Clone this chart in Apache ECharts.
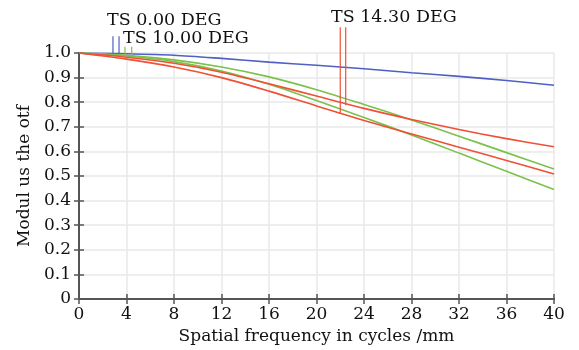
<!DOCTYPE html>
<html>
<head>
<meta charset="utf-8">
<script src="https://cdn.jsdelivr.net/npm/echarts@6/dist/echarts.min.js"></script>
<style>
	html, body { margin: 0; padding: 0; background: #fff; }
	#chart { width: 579px; height: 350px; }
</style>
</head>
<body>
<div id="chart"></div>
<script>
// spatial frequency, cycles/mm
const freq = [0, 4, 8, 12, 16, 20, 24, 28, 32, 36, 40];
// MTF curves
const mtf0 = [1.0, 0.997, 0.991, 0.978, 0.963, 0.95, 0.936, 0.92, 0.905, 0.888, 0.869];
const mtf10T = [1.0, 0.991, 0.972, 0.943, 0.903, 0.851, 0.791, 0.728, 0.662, 0.595, 0.528];
const mtf10S = [1.0, 0.988, 0.965, 0.927, 0.873, 0.807, 0.738, 0.667, 0.593, 0.519, 0.445];
const mtf14T = [1.0, 0.983, 0.958, 0.922, 0.875, 0.825, 0.775, 0.73, 0.689, 0.652, 0.619];
const mtf14S = [1.0, 0.975, 0.943, 0.9, 0.845, 0.785, 0.726, 0.671, 0.617, 0.563, 0.508];

// legend pointer lines: frequency, top value, bottom value
const pointerFreq = [2.86, 3.37, 3.87, 4.44, 22.0, 22.46];
const pointerTop = [1.068, 1.068, 1.025, 1.025, 1.105, 1.105];
const pointerBottom = [0.998, 0.998, 0.99, 0.987, 0.752, 0.788];
const pointerGroup = [0, 0, 1, 1, 2, 2];

const legendNames = ['TS 0.00 DEG', 'TS 10.00 DEG', 'TS 14.30 DEG'];

const color = {
	blue: '#4f60c2',
	green: '#7bc14c',
	red: '#ef5036',
	axis: '#555555',
	grid: '#e9e9e9',
	text: '#111111',
};
const groupColor = [color.blue, color.green, color.red];
const fontFamily = '"DejaVu Serif", serif';

const chart = echarts.init(document.getElementById('chart'), null, { renderer: 'canvas' });

const curve = (values, c) => ({
	type: 'line',
	data: freq.map((f, i) => [f, values[i]]),
	symbol: 'none',
	smooth: 0.3,
	lineStyle: { width: 1.6, color: c },
	animation: false,
	z: 3,
});

const pointers = pointerFreq.map((f, i) => ({
	type: 'line',
	data: [[f, pointerTop[i]], [f, pointerBottom[i]]],
	symbol: 'none',
	clip: false,
	lineStyle: { width: 1.2, color: groupColor[pointerGroup[i]] },
	animation: false,
	z: 4,
}));

const axisLine = { show: true, lineStyle: { color: color.axis, width: 2 } };
const axisTick = { show: true, inside: true, length: 5, lineStyle: { color: color.axis, width: 1.5 } };

const option = {
	backgroundColor: '#fff',
	grid: { left: 79, right: 25, top: 53, bottom: 47 },
	xAxis: [
		{
			type: 'value',
			min: 0,
			max: 40,
			interval: 4,
			position: 'bottom',
			axisLine,
			axisTick,
			axisLabel: { color: color.text, fontFamily, fontSize: 17, margin: 7 },
			splitLine: { show: true, lineStyle: { color: color.grid, width: 1.5 } },
			name: 'Spatial frequency in cycles /mm',
			nameLocation: 'middle',
			nameGap: 29,
			nameTextStyle: { color: color.text, fontFamily, fontSize: 17 },
		},
		{
			type: 'value',
			min: 0,
			max: 40,
			interval: 4,
			position: 'top',
			axisLine,
			axisTick,
			axisLabel: { show: false },
			splitLine: { show: false },
		},
	],
	yAxis: [
		{
			type: 'value',
			min: 0,
			max: 1,
			interval: 0.1,
			position: 'left',
			axisLine,
			axisTick,
			axisLabel: {
				color: color.text,
				fontFamily,
				fontSize: 17,
				margin: 8,
				formatter: v => (v === 0 ? '0' : v.toFixed(1)),
			},
			splitLine: { show: true, lineStyle: { color: color.grid, width: 1.5 } },
			name: 'Modul us the otf',
			nameLocation: 'middle',
			nameGap: 41,
			nameTextStyle: { color: color.text, fontFamily, fontSize: 17 },
		},
		{
			type: 'value',
			min: 0,
			max: 1,
			interval: 0.1,
			position: 'right',
			axisLine,
			axisTick,
			axisLabel: { show: false },
			splitLine: { show: false },
		},
	],
	graphic: [
		{ type: 'text', left: 107, top: 11, style: { text: legendNames[0], font: '17.5px ' + fontFamily, fill: color.text } },
		{ type: 'text', left: 123, top: 29, style: { text: legendNames[1], font: '17.5px ' + fontFamily, fill: color.text } },
		{ type: 'text', left: 331, top: 8, style: { text: legendNames[2], font: '17.5px ' + fontFamily, fill: color.text } },
	],
	series: [
		curve(mtf0, color.blue),
		curve(mtf10T, color.green),
		curve(mtf10S, color.green),
		curve(mtf14T, color.red),
		curve(mtf14S, color.red),
		...pointers,
	],
};

chart.setOption(option);
</script>
</body>
</html>
